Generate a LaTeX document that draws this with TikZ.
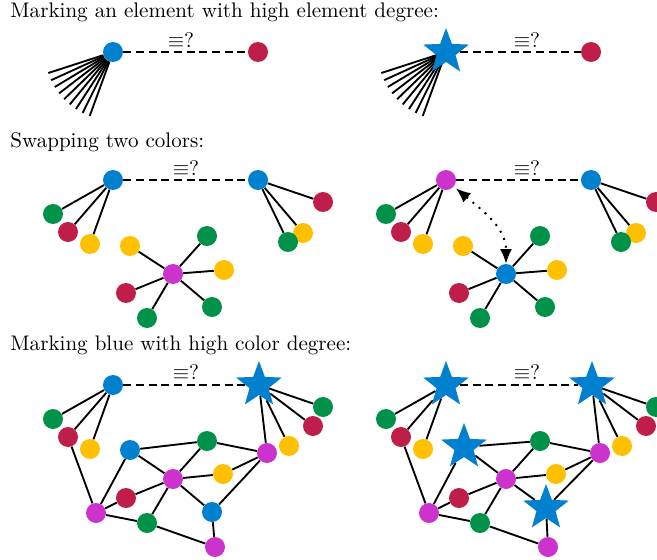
\documentclass[tikz,border=0pt]{standalone}
\usetikzlibrary{shapes.geometric,arrows.meta,backgrounds}
\definecolor{cb}{RGB}{0,128,206}
\definecolor{cr}{RGB}{190,30,72}
\definecolor{cg}{RGB}{0,146,72}
\definecolor{cy}{RGB}{255,192,0}
\definecolor{cm}{RGB}{204,51,204}
\begin{document}
\begin{tikzpicture}[x=0.75pt,y=-0.75pt,
  v/.style={circle,fill=#1,minimum size=15pt,inner sep=0pt},
  st/.style={star,star points=5,star point ratio=2.4,fill=cb,minimum size=36pt,inner sep=0pt},
  e/.style={line width=1.4pt},
  eq/.style={dash pattern=on 6pt off 3.5pt,line width=1.4pt},
  ttl/.style={anchor=base west,inner sep=0pt,font=\normalsize,scale=1.58},
  lbl/.style={inner sep=0pt,font=\normalsize,scale=1.58}]
\useasboundingbox (0,0) rectangle (657,560);

% titles
\node[ttl] (t1) at (10,18) {Marking an element with high element degree:};
\node[ttl] (t2) at (10,147) {Swapping two colors:};
\node[ttl] (t3) at (10,350) {Marking blue with high color degree:};

% ---------- panel 1 left
\node[v=cb] (pa) at (113,52) {};
\node[v=cr] (pb) at (258,52) {};
\draw[eq] (pa) -- (pb);
\node[lbl] (pl) at (181,40) {$\equiv$?};
\foreach \i in {0,...,8}{
  \path (pa) ++({162-6.5*\i}:68) coordinate (pf\i);
  \draw[e] (pa) -- (pf\i);
}
% ---------- panel 1 right
\begin{scope}[xshift=249.75pt]
\node[st] (qa) at (113,52) {};
\node[v=cr] (qb) at (258,52) {};
\draw[eq] (qa) -- (qb);
\node[lbl] (ql) at (194,40) {$\equiv$?};
\begin{scope}[on background layer]
\foreach \i in {0,...,8}{
  \path (qa) ++({162-6.5*\i}:68) coordinate (qf\i);
  \draw[e] (qa.center) -- (qf\i);
}
\end{scope}
\end{scope}

% ---------- panel 2 left
\node[v=cb] (ra) at (113,180) {};
\node[v=cb] (rb) at (258,180) {};
\draw[eq] (ra) -- (rb);
\node[lbl] (rl) at (186,168) {$\equiv$?};
\node[v=cg] (ra1) at (53,214) {};
\node[v=cr] (ra2) at (68,232) {};
\node[v=cy] (ra3) at (90,244) {};
\node[v=cr] (rb1) at (323,202) {};
\node[v=cy] (rb2) at (303,233) {};
\node[v=cg] (rb3) at (288,242) {};
\node[v=cm] (rc) at (173,274) {};
\node[v=cy] (rc1) at (130,246) {};
\node[v=cg] (rc2) at (207,236) {};
\node[v=cy] (rc3) at (224,270) {};
\node[v=cg] (rc4) at (212,307) {};
\node[v=cg] (rc5) at (147,318) {};
\node[v=cr] (rc6) at (126,293) {};
\begin{scope}[on background layer]
\foreach \n in {ra1,ra2,ra3} \draw[e] (ra) -- (\n);
\foreach \n in {rb1,rb2,rb3} \draw[e] (rb) -- (\n);
\foreach \n in {rc1,rc2,rc3,rc4,rc5,rc6} \draw[e] (rc) -- (\n);
\end{scope}

% ---------- panel 2 right
\begin{scope}[xshift=249.75pt]
\node[v=cm] (sa) at (113,180) {};
\node[v=cb] (sb) at (258,180) {};
\draw[eq] (sa) -- (sb);
\node[lbl] (sl) at (194,168) {$\equiv$?};
\node[v=cg] (sa1) at (53,214) {};
\node[v=cr] (sa2) at (68,232) {};
\node[v=cy] (sa3) at (90,244) {};
\node[v=cr] (sb1) at (323,202) {};
\node[v=cy] (sb2) at (303,233) {};
\node[v=cg] (sb3) at (288,242) {};
\node[v=cb] (sc) at (173,274) {};
\node[v=cy] (sc1) at (130,246) {};
\node[v=cg] (sc2) at (207,236) {};
\node[v=cy] (sc3) at (224,270) {};
\node[v=cg] (sc4) at (212,307) {};
\node[v=cg] (sc5) at (147,318) {};
\node[v=cr] (sc6) at (126,293) {};
\begin{scope}[on background layer]
\foreach \n in {sa1,sa2,sa3} \draw[e] (sa) -- (\n);
\foreach \n in {sb1,sb2,sb3} \draw[e] (sb) -- (\n);
\foreach \n in {sc1,sc2,sc3,sc4,sc5,sc6} \draw[e] (sc) -- (\n);
\end{scope}
\draw[line width=1.5pt,dash pattern=on 1.5pt off 4.5pt,
  {Latex[length=11pt,width=9pt]}-{Latex[length=11pt,width=9pt]},shorten <=2pt]
  (sa) to[out=-40,in=90] (sc);
\end{scope}

% ---------- panel 3 left
\node[v=cb] (ua) at (113,385) {};
\node[st] (ub) at (259,385) {};
\draw[eq] (ua) -- (ub);
\node[lbl] (ul) at (186,372) {$\equiv$?};
\node[v=cg] (ua1) at (53,419) {};
\node[v=cr] (ua2) at (68,437) {};
\node[v=cy] (ua3) at (90,449) {};
\node[v=cg] (ub1) at (323,407) {};
\node[v=cr] (ub2) at (313,426) {};
\node[v=cy] (ub3) at (289,446) {};
\node[v=cm] (umr) at (267,453) {};
\node[v=cb] (ubm) at (130,450) {};
\node[v=cg] (ugm) at (207,441) {};
\node[v=cm] (umc) at (173,479) {};
\node[v=cy] (uym) at (223,474) {};
\node[v=cr] (urm) at (126,498) {};
\node[v=cm] (uml) at (96,513) {};
\node[v=cg] (ugb) at (147,523) {};
\node[v=cb] (ubb) at (212,512) {};
\node[v=cm] (umb) at (215,547) {};
\begin{scope}[on background layer]
\foreach \n in {ua1,ua2,ua3} \draw[e] (ua) -- (\n);
\foreach \n in {ub1,ub2,ub3,umr} \draw[e] (ub) -- (\n);
\foreach \a/\b in {ua2/uml,ubm/ugm,ubm/umc,ubm/uml,ugm/umr,ugm/umc,umc/uym,uym/umr,umc/urm,urm/uml,umc/ugb,umc/ubb,ubb/umr,uml/ugb,ugb/umb,ubb/umb}
  \draw[e] (\a) -- (\b);
\end{scope}

% ---------- panel 3 right
\begin{scope}[xshift=249.75pt]
\node[st] (wa) at (113,385) {};
\node[st] (wb) at (259,385) {};
\draw[eq] (wa) -- (wb);
\node[lbl] (wl) at (194,372) {$\equiv$?};
\node[v=cg] (wa1) at (53,419) {};
\node[v=cr] (wa2) at (68,437) {};
\node[v=cy] (wa3) at (90,449) {};
\node[v=cg] (wb1) at (323,407) {};
\node[v=cr] (wb2) at (313,426) {};
\node[v=cy] (wb3) at (289,446) {};
\node[v=cm] (wmr) at (267,453) {};
\node[st] (wbm) at (131,447) {};
\node[v=cg] (wgm) at (207,441) {};
\node[v=cm] (wmc) at (173,479) {};
\node[v=cy] (wym) at (223,474) {};
\node[v=cr] (wrm) at (126,498) {};
\node[v=cm] (wml) at (96,513) {};
\node[v=cg] (wgb) at (147,523) {};
\node[st] (wbb) at (213,508) {};
\node[v=cm] (wmb) at (215,547) {};
\begin{scope}[on background layer]
\foreach \n in {wa1,wa2,wa3} \draw[e] (wa) -- (\n);
\foreach \n in {wb1,wb2,wb3,wmr} \draw[e] (wb) -- (\n);
\foreach \a/\b in {wa2/wml,wbm/wgm,wbm/wmc,wbm/wml,wgm/wmr,wgm/wmc,wmc/wym,wym/wmr,wmc/wrm,wrm/wml,wmc/wgb,wmc/wbb,wbb/wmr,wml/wgb,wgb/wmb,wbb/wmb}
  \draw[e] (\a) -- (\b);
\end{scope}
\end{scope}
\end{tikzpicture}
\end{document}
